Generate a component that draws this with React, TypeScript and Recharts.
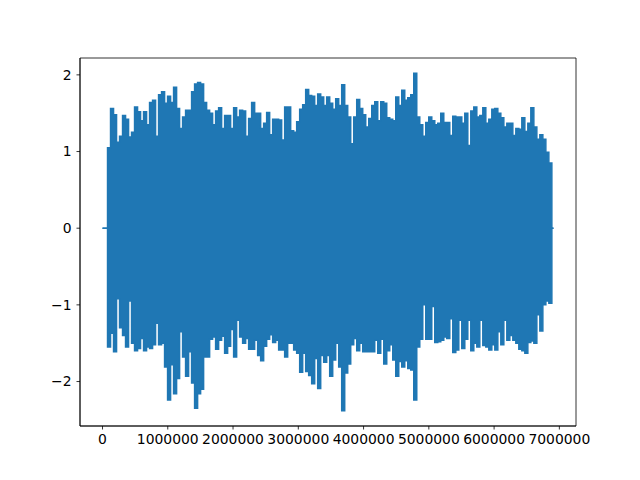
import React from "react";
import { AreaChart, Area, XAxis, YAxis, CartesianGrid } from "recharts";

// waveform envelope, one bin per ~46k samples
const START = 77000;
const STEP = 46000;
const LEAD_END = 0;
const TAIL_END = 6910000;

const upper = [
  1.05, 1.56, 1.48, 1.12, 1.2, 1.47, 1.42, 1.19, 1.25, 1.58, 1.52, 1.4, 1.52, 1.35, 1.64, 1.67, 1.2, 1.74, 1.78, 1.63,
  1.72, 1.64, 1.84, 1.56, 1.3, 1.45, 1.54, 1.54, 1.78, 1.88, 1.9, 1.88, 1.64, 1.54, 1.5, 1.35, 1.53, 1.57, 1.3, 1.47,
  1.47, 1.3, 1.57, 1.45, 1.54, 1.53, 1.2, 1.43, 1.64, 1.5, 1.5, 1.3, 1.37, 1.51, 1.22, 1.42, 1.42, 1.41, 1.15, 1.58,
  1.58, 1.27, 1.25, 1.39, 1.55, 1.61, 1.81, 1.73, 1.72, 1.6, 1.75, 1.71, 1.6, 1.71, 1.63, 1.55, 1.69, 1.6, 1.87, 1.6,
  1.45, 1.1, 1.45, 1.68, 1.56, 1.48, 1.32, 1.43, 1.6, 1.65, 1.4, 1.65, 1.63, 1.44, 1.42, 1.4, 1.71, 1.6, 1.8, 1.67,
  1.7, 1.74, 2.02, 1.45, 1.35, 1.2, 1.38, 1.45, 1.4, 1.35, 1.37, 1.5, 1.38, 1.38, 1.21, 1.46, 1.45, 1.45, 1.37, 1.5,
  1.08, 1.53, 1.58, 1.45, 1.47, 1.57, 1.37, 1.42, 1.55, 1.56, 1.5, 1.44, 1.32, 1.37, 1.37, 1.21, 1.3, 1.29, 1.44, 1.26,
  1.37, 1.57, 1.32, 1.16, 1.22, 1.16, 0.99, 0.85,
];

const lower = [
  -1.55, -1.37, -1.61, -0.92, -1.3, -1.4, -1.55, -0.95, -1.5, -1.6, -1.57, -1.44, -1.6, -1.55, -1.57, -1.52, -1.24, -1.52, -1.5, -1.81,
  -2.24, -1.78, -2.16, -1.96, -1.35, -1.68, -1.93, -1.61, -2.02, -2.35, -2.16, -2.1, -1.68, -1.68, -1.45, -1.42, -1.58, -1.46, -1.41, -1.63,
  -1.54, -1.32, -1.68, -1.2, -1.42, -1.5, -1.44, -1.58, -1.58, -1.46, -1.66, -1.73, -1.54, -1.45, -1.39, -1.49, -1.46, -1.59, -1.59, -1.68,
  -1.5, -1.5, -1.59, -1.63, -1.88, -1.63, -1.87, -1.92, -2.03, -1.7, -2.09, -1.66, -1.75, -1.66, -1.93, -1.72, -1.5, -1.81, -2.38, -1.89,
  -1.77, -1.52, -1.44, -1.6, -1.5, -1.61, -1.61, -1.61, -1.61, -1.46, -1.63, -1.45, -1.77, -1.6, -1.52, -1.72, -1.93, -1.74, -1.81, -1.73,
  -1.83, -1.85, -2.24, -1.55, -1.45, -1.0, -1.45, -1.45, -1.02, -1.49, -1.48, -1.46, -1.42, -1.44, -1.18, -1.62, -1.59, -1.2, -1.57, -1.45,
  -1.2, -1.6, -1.5, -1.55, -1.2, -1.53, -1.55, -1.59, -1.52, -1.59, -1.35, -1.52, -1.2, -1.46, -1.4, -1.46, -1.5, -1.58, -1.6, -1.63,
  -1.49, -1.47, -1.5, -1.13, -1.34, -1.0, -0.95, -0.98,
];

const xTicks = [0, 1000000, 2000000, 3000000, 4000000, 5000000, 6000000, 7000000];
const yTicks = [-2, -1, 0, 1, 2];

const data = [
  { t: LEAD_END, r: [0, 0] },
  ...upper.map((hi, i) => ({ t: START + i * STEP, r: [lower[i], hi] })),
  { t: START + upper.length * STEP, r: [0, 0] },
  { t: TAIL_END, r: [0, 0] },
];

const tickStyle = { fill: "#000", fontSize: 13.9, fontFamily: "DejaVu Sans" };
const fmtY = (v: number) => (v < 0 ? "\u2212" + Math.abs(v) : String(v));

// box around the plot area (matplotlib spines)
const frameH = ({ offset }: any) => [offset.top, offset.top + offset.height];
const frameV = ({ offset }: any) => [offset.left, offset.left + offset.width];

export default function App() {
  return (
    <div style={{ position: "absolute", left: 0, top: 0, width: 640, height: 480, background: "#fff" }}>
      <AreaChart width={640} height={480} data={data} margin={{ top: 58, right: 64, left: 0, bottom: 0 }}>
        <CartesianGrid
          stroke="#000"
          strokeWidth={0.8}
          fill="none"
          horizontalCoordinatesGenerator={frameH}
          verticalCoordinatesGenerator={frameV}
        />
        <XAxis
          dataKey="t"
          type="number"
          domain={[-345000, 7255000]}
          allowDataOverflow
          ticks={xTicks}
          interval={0}
          height={54}
          tick={tickStyle}
          tickSize={3.5}
          tickMargin={5}
          axisLine={{ stroke: "#000", strokeWidth: 0.8 }}
          tickLine={{ stroke: "#000", strokeWidth: 0.8 }}
        />
        <YAxis
          type="number"
          domain={[-2.58, 2.22]}
          allowDataOverflow
          ticks={yTicks}
          interval={0}
          width={80}
          tick={tickStyle}
          tickFormatter={fmtY}
          tickSize={3.5}
          tickMargin={5}
          axisLine={{ stroke: "#000", strokeWidth: 0.8 }}
          tickLine={{ stroke: "#000", strokeWidth: 0.8 }}
        />
        <Area
          type="stepAfter"
          dataKey="r"
          stroke="#1f77b4"
          strokeWidth={1.5}
          fill="#1f77b4"
          fillOpacity={1}
          dot={false}
          activeDot={false}
          isAnimationActive={false}
        />
      </AreaChart>
    </div>
  );
}
